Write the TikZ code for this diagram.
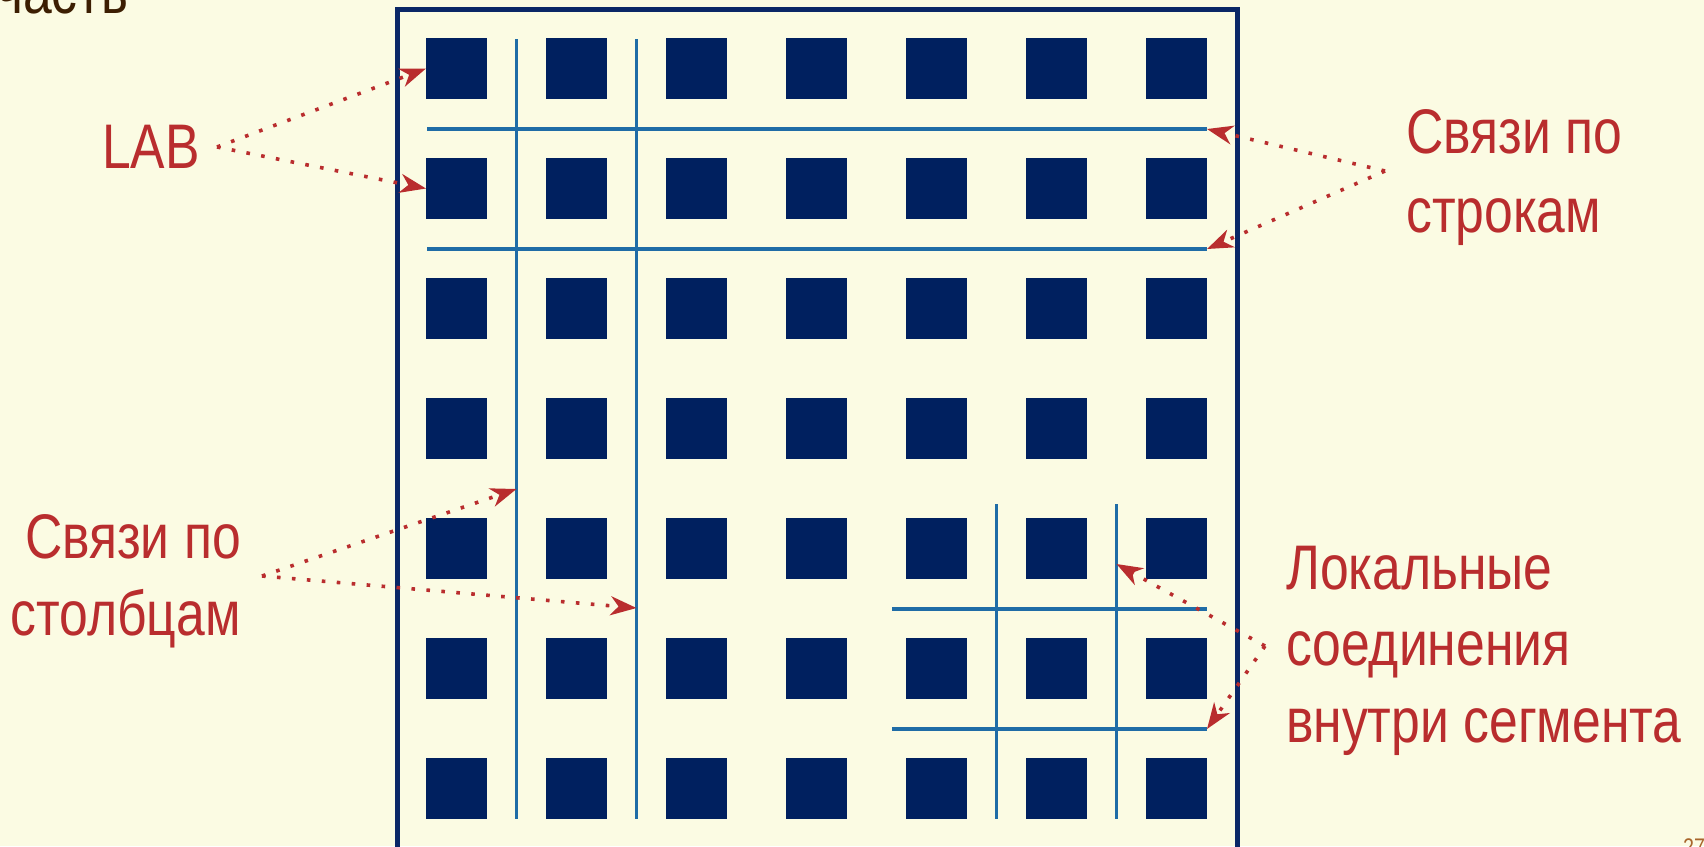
\documentclass[tikz,border=0pt]{standalone}
\usepackage{fontspec}
\setmainfont{Liberation Sans}[FakeStretch=0.82]
\usetikzlibrary{arrows.meta}
\definecolor{bg}{HTML}{FBFBE3}
\definecolor{navy}{HTML}{00205F}
\definecolor{framec}{HTML}{0A2766}
\definecolor{wire}{HTML}{1F6CA6}
\definecolor{lbl}{HTML}{B92D2E}
\definecolor{ttl}{HTML}{3C1E02}
\definecolor{pg}{HTML}{A8662C}
\tikzset{
  sq/.style={fill=navy, draw=none, minimum size=61pt, inner sep=0pt, outer sep=0pt},
  wireline/.style={wire, line width=3.8pt},
  lbltext/.style={text=lbl, inner sep=0pt, anchor=base west, font=\fontsize{63}{78}\selectfont},
  ptr/.style={lbl, line width=3.6pt, dash pattern=on 3.6pt off 11.4pt,
    -{Stealth[length=26pt, width=19pt, inset=8pt]}}
}
\begin{document}
\begin{tikzpicture}[x=1pt, y=-1pt]
\useasboundingbox (0,0) rectangle (1704,846);
\clip (0,0) rectangle (1704,846);
\fill[bg] (0,0) rectangle (1704,846);

% title fragment
\node[text=ttl, inner sep=0pt, anchor=base west, font=\fontsize{63}{78}\selectfont] (title) at (-4,13.5) {часть};
% page number fragment
\node[text=pg, inner sep=0pt, anchor=north west, font=\fontsize{24}{28}\selectfont] (pgnum) at (1683,839) {27};

% frame
\draw[framec, line width=5pt] (397,9) rectangle (1237,900);

% squares
\foreach \i in {0,...,6}{
  \foreach \j in {0,...,6}{
    \node[sq] (s\i\j) at (456.5+120*\i, 68.5+120*\j) {};
  }
}

% global wires
\coordinate (h1w) at (427,129); \coordinate (h1e) at (1207,129);
\coordinate (h2w) at (427,249); \coordinate (h2e) at (1207,249);
\coordinate (v1t) at (516.5,39); \coordinate (v1b) at (516.5,819);
\coordinate (v2t) at (636.5,39); \coordinate (v2b) at (636.5,819);
\draw[wireline] (h1w) -- (h1e);
\draw[wireline] (h2w) -- (h2e);
\draw[wireline] (v1t) -- (v1b);
\draw[wireline] (v2t) -- (v2b);

% local wires
\coordinate (l1w) at (892,609); \coordinate (l1e) at (1207,609);
\coordinate (l2w) at (892,729); \coordinate (l2e) at (1207,729);
\coordinate (lv1t) at (996.5,504); \coordinate (lv1b) at (996.5,819);
\coordinate (lv2t) at (1116.5,504); \coordinate (lv2b) at (1116.5,819);
\draw[wireline] (l1w) -- (l1e);
\draw[wireline] (l2w) -- (l2e);
\draw[wireline] (lv1t) -- (lv1b);
\draw[wireline] (lv2t) -- (lv2b);

% labels
\node[lbltext] (lab) at (102,168) {LAB};
\node[lbltext] (rows1) at (1406,153) {Связи по};
\node[lbltext] (rows2) at (1406,232) {строкам};
\node[lbltext, anchor=base east] (cols1) at (241,558) {Связи по};
\node[lbltext, anchor=base east] (cols2) at (241,635) {столбцам};
\node[lbltext] (loc1) at (1286,589) {Локальные};
\node[lbltext] (loc2) at (1286,665) {соединения};
\node[lbltext] (loc3) at (1286,742) {внутри сегмента};

% pointer origins and targets
\coordinate (labsrc) at (217,147);
\coordinate (rowsrc) at (1385,171);
\coordinate (colsrc) at (262,576);
\coordinate (locsrc) at (1265,646);
\coordinate (colt1) at (516.5,489);
\coordinate (colt2) at (636.5,608);
\coordinate (loct1) at (1116.5,564);

\draw[ptr] (labsrc) -- (s00.west);
\draw[ptr] (labsrc) -- (s01.west);
\draw[ptr] (rowsrc) -- (h1e);
\draw[ptr] (rowsrc) -- (h2e);
\draw[ptr] (colsrc) -- (colt1);
\draw[ptr] (colsrc) -- (colt2);
\draw[ptr] (locsrc) -- (loct1);
\draw[ptr] (locsrc) -- (l2e);
\end{tikzpicture}
\end{document}
